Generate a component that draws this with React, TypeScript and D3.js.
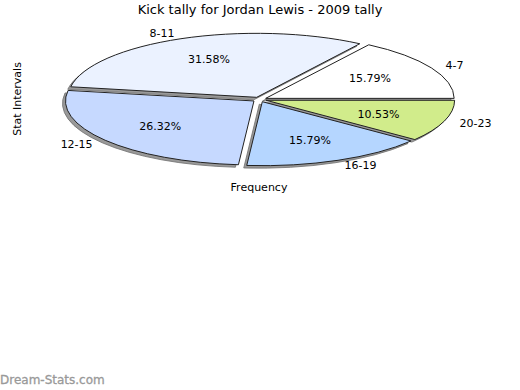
import { useEffect, useRef } from 'react';
import * as d3 from 'd3';

const categories = ['4-7', '8-11', '12-15', '16-19', '20-23'];
const tallies = [3, 6, 5, 3, 2];
const sliceColors = ['#ffffff', '#ebf2ff', '#c6d9ff', '#b5d6ff', '#d1ec8b'];

const W = 520;
const H = 390;

const App = () => {
  const svgRef = useRef<SVGSVGElement>(null);

  useEffect(() => {
    const svg = d3.select(svgRef.current);
    svg.selectAll('*').remove();

    const cx = 259.5;
    const cy = 99.5;
    const rx = 188.5;
    const ry = 64;
    const explode = 7;
    const total = d3.sum(tallies);

    // angles run counter-clockwise from 3 o'clock
    const pie = d3.pie<number>().sort(null).startAngle(0).endAngle(2 * Math.PI);
    const arcs = pie(tallies);

    const pt = (a: number, sx: number, sy: number) => [Math.cos(a) * sx, -Math.sin(a) * sy];
    const mid = (d: d3.PieArcDatum<number>) => (d.startAngle + d.endAngle) / 2;

    const slicePath = (d: d3.PieArcDatum<number>) => {
      const [x0, y0] = pt(d.startAngle, rx, ry);
      const [x1, y1] = pt(d.endAngle, rx, ry);
      const large = d.endAngle - d.startAngle > Math.PI ? 1 : 0;
      return `M0,0L${x0},${y0}A${rx},${ry} 0 ${large} 0 ${x1},${y1}Z`;
    };

    const offset = (d: d3.PieArcDatum<number>) => {
      const [ox, oy] = pt(mid(d), explode, explode * ry / rx);
      return [cx + ox, cy + oy];
    };

    const font = 'DejaVu Sans, sans-serif';

    svg.append('text')
      .attr('x', W / 2)
      .attr('y', 14)
      .attr('text-anchor', 'middle')
      .style('font-family', font)
      .style('font-size', '13px')
      .text('Kick tally for Jordan Lewis - 2009 tally');

    const shadows = svg.append('g');
    shadows.selectAll('path')
      .data(arcs)
      .join('path')
      .attr('transform', d => {
        const [x, y] = offset(d);
        return `translate(${x - 3},${y + 2.5})`;
      })
      .attr('d', slicePath)
      .attr('fill', '#999')
      .attr('stroke', '#6f6f6f')
      .attr('stroke-width', 0.8);

    const slices = svg.append('g');
    slices.selectAll('path')
      .data(arcs)
      .join('path')
      .attr('transform', d => {
        const [x, y] = offset(d);
        return `translate(${x},${y})`;
      })
      .attr('d', slicePath)
      .attr('fill', (d, i) => sliceColors[i])
      .attr('stroke', '#222')
      .attr('stroke-width', 1);

    // percentage labels inside
    svg.append('g').selectAll('text')
      .data(arcs)
      .join('text')
      .attr('x', d => offset(d)[0] + pt(mid(d), rx * 0.63, ry * 0.65)[0])
      .attr('y', d => offset(d)[1] + pt(mid(d), rx * 0.63, ry * 0.65)[1])
      .attr('text-anchor', 'middle')
      .attr('dy', '0.35em')
      .style('font-family', font)
      .style('font-size', '11px')
      .text(d => ((d.value / total) * 100).toFixed(2) + '%');

    // category labels outside
    svg.append('g').selectAll('text')
      .data(arcs)
      .join('text')
      .attr('x', d => cx + pt(mid(d), rx + 23, ry + 8)[0])
      .attr('y', d => cy + pt(mid(d), rx + 23, ry + 8)[1])
      .attr('text-anchor', d => Math.cos(mid(d)) >= 0 ? 'start' : 'end')
      .attr('dy', '0.35em')
      .style('font-family', font)
      .style('font-size', '11px')
      .text((d, i) => categories[i]);

    svg.append('text')
      .attr('transform', `translate(21,99) rotate(-90)`)
      .attr('text-anchor', 'middle')
      .style('font-family', font)
      .style('font-size', '11px')
      .text('Stat Intervals');

    svg.append('text')
      .attr('x', 259)
      .attr('y', 191)
      .attr('text-anchor', 'middle')
      .style('font-family', font)
      .style('font-size', '11px')
      .text('Frequency');

    svg.append('text')
      .attr('x', 0)
      .attr('y', 384)
      .style('font-family', font)
      .style('font-size', '12px')
      .attr('fill', '#999')
      .attr('stroke', '#999')
      .attr('stroke-width', 0.3)
      .text('Dream-Stats.com');
  }, []);

  return (
    <svg
      ref={svgRef}
      width={W}
      height={H}
      style={{ position: 'absolute', left: 0, top: 0, background: '#fff' }}
    />
  );
};

export default App;
